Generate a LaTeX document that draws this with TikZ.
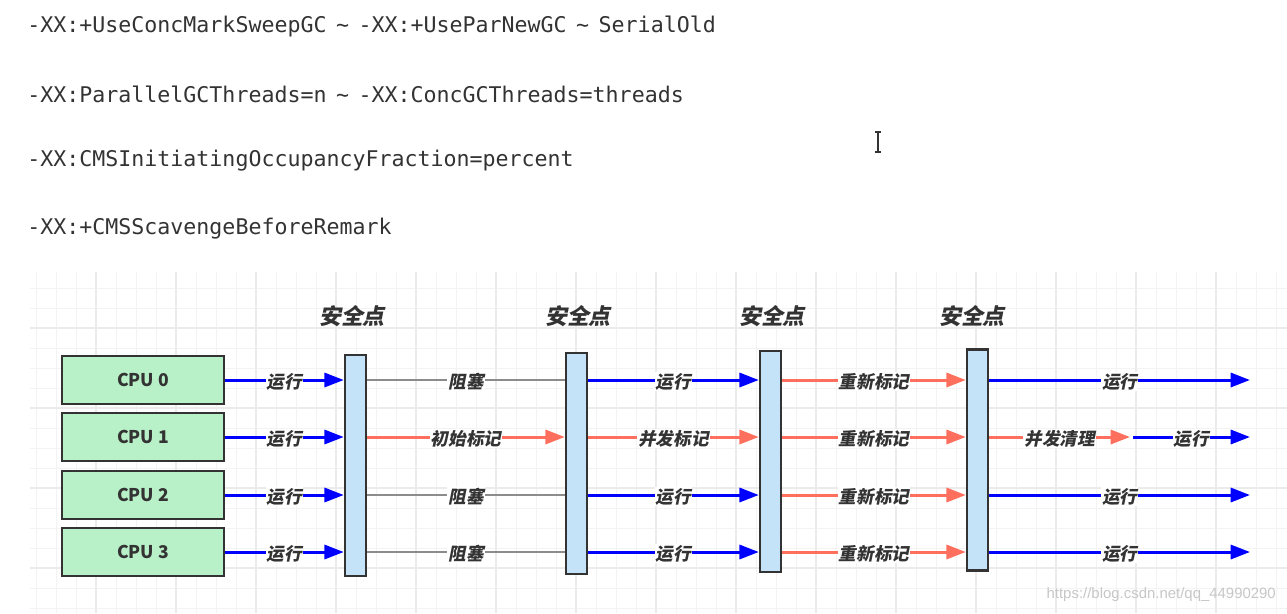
\documentclass[tikz,border=0pt]{standalone}
\usepackage{fontspec}
\usetikzlibrary{arrows.meta,positioning}
\newfontfamily\cjk{Noto Sans CJK SC}
\newfontfamily\cjkit{Noto Sans CJK SC}[FakeSlant=0.2]
\newfontfamily\codefont{DejaVu Sans Mono}
\newfontfamily\markfont{Liberation Sans}
\newcommand\tl{\kern-2pt\textasciitilde\kern-2pt}
\definecolor{txt}{HTML}{333333}
\definecolor{cpufill}{HTML}{B8F0C8}
\definecolor{barfill}{HTML}{C4E2F8}
\definecolor{runblue}{HTML}{0000FF}
\definecolor{markred}{HTML}{FF6F5E}
\definecolor{waitgray}{HTML}{8C8C8C}
\definecolor{gridminor}{HTML}{F3F3F3}
\definecolor{gridmajor}{HTML}{EBEBEB}
\tikzset{
	opt/.style={anchor=west, inner sep=0pt, text=txt, font=\codefont\fontsize{12.3}{14}\selectfont},
	cpu/.style={draw=txt, line width=1.4pt, fill=cpufill, minimum width=3.24cm, minimum height=0.97cm, text=txt, font=\cjk\bfseries\fontsize{10}{12}\selectfont},
	safebar/.style={draw=txt, line width=1.4pt, fill=barfill, minimum width=0.42cm, minimum height=4.42cm, inner sep=0pt},
	safelabel/.style={text=txt, font=\cjkit\bfseries\fontsize{12.5}{14}\selectfont},
	run/.style={color=runblue, line width=1.7pt, -{Triangle[length=11pt,width=8pt]}},
	marking/.style={color=markred, line width=1.7pt, -{Triangle[length=11pt,width=8pt]}},
	wait/.style={color=waitgray, line width=1.1pt},
	lbl/.style={fill=white, inner sep=0.6pt, yshift=-1pt, text=txt, font=\cjkit\bfseries\fontsize{10}{12}\selectfont}
}
\begin{document}
\begin{tikzpicture}[x=0.02cm, y=-0.02cm]
	\useasboundingbox (0, 0) rectangle (1287, 613);
	\fill [white] (0, 0) rectangle (1287, 613);
	% grid
	\foreach \x in {36, 56, ..., 1287} \draw [gridminor, line width=.5pt] (\x, 272) -- (\x, 613);
	\foreach \y in {288, 308, ..., 613} \draw [gridminor, line width=.5pt] (30, \y) -- (1287, \y);
	\foreach \x in {96, 176, ..., 1287} \draw [gridmajor, line width=.6pt] (\x, 272) -- (\x, 613);
	\foreach \y in {328, 408, ..., 613} \draw [gridmajor, line width=.6pt] (30, \y) -- (1287, \y);
	% options
	\node [opt] (opt1) at (27, 26) {-XX:+UseConcMarkSweepGC \tl{} -XX:+UseParNewGC \tl{} SerialOld};
	\node [opt] (opt2) at (27, 94) {-XX:ParallelGCThreads=n \tl{} -XX:ConcGCThreads=threads};
	\node [opt] (opt3) at (27, 161) {-XX:CMSInitiatingOccupancyFraction=percent};
	\node [opt] (opt4) at (27, 229) {-XX:+CMSScavengeBeforeRemark};
	\draw [txt, line width=.7pt] (875, 132) -- (881, 132) (878, 132) -- (878, 152) (875, 152) -- (881, 152);
	% cpus and safepoints
	\foreach \i/\y in {0/380, 1/437, 2/495, 3/552}
		\node [cpu] (cpu\i) at (143, \y) {CPU \i};
	\node [safebar] (s1) at (355.5, 465.5) {};
	\node [safebar] (s2) at (576.5, 463.5) {};
	\node [safebar] (s3) at (770.5, 461.5) {};
	\node [safebar] (s4) at (977.5, 460) {};
	\foreach \n/\x in {1/352, 2/578, 3/772, 4/972}
		\node [safelabel] (sp\n) at (\x, 316) {安全点};
	% phases
	\foreach \i in {0, ..., 3}
		\draw [run] (cpu\i.east) -- node [lbl] {运行} (s1.west |- cpu\i);
	\foreach \i in {0, 2, 3}
		\draw [wait] (s1.east |- cpu\i) -- node [lbl] {阻塞} (s2.west |- cpu\i);
	\draw [marking] (s1.east |- cpu1) -- node [lbl] {初始标记} (s2.west |- cpu1);
	\foreach \i in {0, 2, 3}
		\draw [run] (s2.east |- cpu\i) -- node [lbl] {运行} (s3.west |- cpu\i);
	\draw [marking] (s2.east |- cpu1) -- node [lbl] {并发标记} (s3.west |- cpu1);
	\foreach \i in {0, ..., 3}
		\draw [marking] (s3.east |- cpu\i) -- node [lbl] {重新标记} (s4.west |- cpu\i);
	\foreach \i in {0, 2, 3} {
		\coordinate (end\i) at (1250, 0);
		\draw [run] (s4.east |- cpu\i) -- node [lbl] {运行} (end\i |- cpu\i);
	}
	\coordinate (sweep) at (1130, 437);
	\coordinate (resume) at (1133, 437);
	\coordinate (end1) at (1250, 437);
	\draw [marking] (s4.east |- cpu1) -- node [lbl] {并发清理} (sweep);
	\draw [run] (resume) -- node [lbl] {运行} (end1);
	\node [anchor=east, text=black!22, font=\markfont\fontsize{8.5}{10}\selectfont] (watermark) at (1282, 595) {https://blog.csdn.net/qq\_44990290};
\end{tikzpicture}
\end{document}
